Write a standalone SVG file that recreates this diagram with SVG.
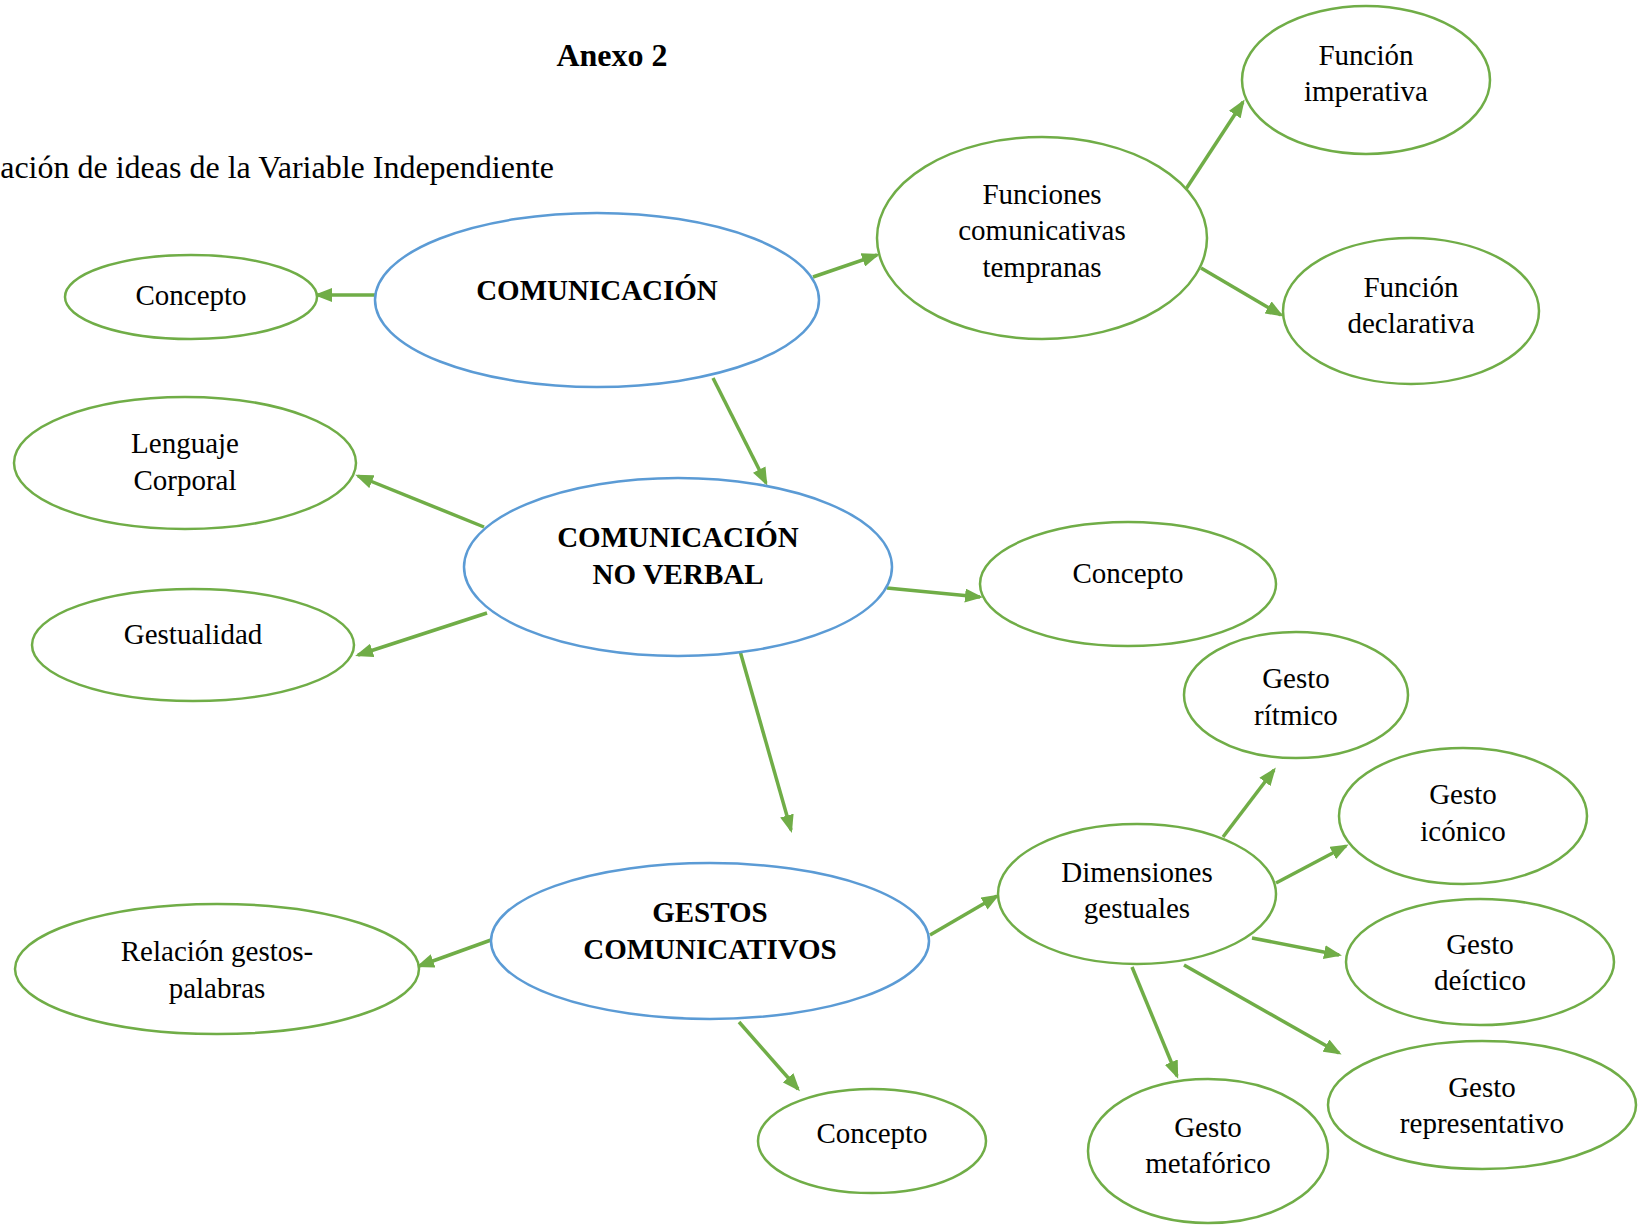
<svg xmlns="http://www.w3.org/2000/svg" width="1638" height="1225" viewBox="0 0 1638 1225">
<defs>
<marker id="ah" markerUnits="userSpaceOnUse" markerWidth="18" markerHeight="14" refX="15" refY="7" orient="auto">
<path d="M0,0 L18,7 L0,14 z" fill="#70AD47"/>
</marker>
</defs>
<style>
.g{fill:#fff;stroke:#70AD47;stroke-width:2.5}
.b{fill:#fff;stroke:#5B9BD5;stroke-width:2.5}
.t{font-family:"Liberation Serif","Times New Roman",serif;font-size:29px;fill:#000;text-anchor:middle}
.tb{font-family:"Liberation Serif","Times New Roman",serif;font-size:29px;font-weight:bold;fill:#000;text-anchor:middle}
.h{font-size:32px}
.c line{stroke:#70AD47;stroke-width:3.5;marker-end:url(#ah)}
</style>
<rect width="1638" height="1225" fill="#fff"/>
<text x="612" y="66" class="tb h">Anexo 2</text>
<text x="554" y="178" class="t h" style="text-anchor:end">ación de ideas de la Variable Independiente</text>

<g class="c">
<line x1="375" y1="295" x2="317" y2="295"/>
<line x1="813" y1="277" x2="877" y2="255"/>
<line x1="1186" y1="189" x2="1243" y2="102"/>
<line x1="1201" y1="268" x2="1281" y2="315"/>
<line x1="713" y1="378" x2="766" y2="483"/>
<line x1="484" y1="527" x2="358" y2="476"/>
<line x1="487" y1="613" x2="358" y2="655"/>
<line x1="887" y1="588" x2="980" y2="597"/>
<line x1="738" y1="644" x2="791" y2="830"/>
<line x1="491" y1="940" x2="419" y2="966"/>
<line x1="739" y1="1022" x2="798" y2="1089"/>
<line x1="930" y1="935" x2="997" y2="896"/>
<line x1="1223" y1="837" x2="1274" y2="770"/>
<line x1="1276" y1="883" x2="1346" y2="846"/>
<line x1="1252" y1="938" x2="1339" y2="955"/>
<line x1="1184" y1="965" x2="1339" y2="1053"/>
<line x1="1132" y1="967" x2="1177" y2="1076"/>
</g>

<g id="comunicacion">
<ellipse class="b" cx="597" cy="300" rx="222" ry="87"/>
<text class="tb" x="597" y="300">COMUNICACIÓN</text>
</g>
<g id="concepto1">
<ellipse class="g" cx="191" cy="297" rx="126" ry="42"/>
<text class="t" x="191" y="305">Concepto</text>
</g>
<g id="funciones">
<ellipse class="g" cx="1042" cy="238" rx="165" ry="101"/>
<text class="t" x="1042" y="204">Funciones</text>
<text class="t" x="1042" y="240">comunicativas</text>
<text class="t" x="1042" y="277">tempranas</text>
</g>
<g id="imperativa">
<ellipse class="g" cx="1366" cy="80" rx="124" ry="74"/>
<text class="t" x="1366" y="65">Función</text>
<text class="t" x="1366" y="101">imperativa</text>
</g>
<g id="declarativa">
<ellipse class="g" cx="1411" cy="311" rx="128" ry="73"/>
<text class="t" x="1411" y="297">Función</text>
<text class="t" x="1411" y="333">declarativa</text>
</g>
<g id="noverbal">
<ellipse class="b" cx="678" cy="567" rx="214" ry="89"/>
<text class="tb" x="678" y="547">COMUNICACIÓN</text>
<text class="tb" x="678" y="584">NO VERBAL</text>
</g>
<g id="lenguaje">
<ellipse class="g" cx="185" cy="463" rx="171" ry="66"/>
<text class="t" x="185" y="453">Lenguaje</text>
<text class="t" x="185" y="490">Corporal</text>
</g>
<g id="gestualidad">
<ellipse class="g" cx="193" cy="645" rx="161" ry="56"/>
<text class="t" x="193" y="644">Gestualidad</text>
</g>
<g id="concepto2">
<ellipse class="g" cx="1128" cy="584" rx="148" ry="62"/>
<text class="t" x="1128" y="583">Concepto</text>
</g>
<g id="gestos">
<ellipse class="b" cx="710" cy="941" rx="219" ry="78"/>
<text class="tb" x="710" y="922">GESTOS</text>
<text class="tb" x="710" y="959">COMUNICATIVOS</text>
</g>
<g id="relacion">
<ellipse class="g" cx="217" cy="969" rx="202" ry="65"/>
<text class="t" x="217" y="961">Relación gestos-</text>
<text class="t" x="217" y="998">palabras</text>
</g>
<g id="concepto3">
<ellipse class="g" cx="872" cy="1141" rx="114" ry="52"/>
<text class="t" x="872" y="1143">Concepto</text>
</g>
<g id="dimensiones">
<ellipse class="g" cx="1137" cy="894" rx="139" ry="70"/>
<text class="t" x="1137" y="882">Dimensiones</text>
<text class="t" x="1137" y="918">gestuales</text>
</g>
<g id="ritmico">
<ellipse class="g" cx="1296" cy="695" rx="112" ry="63"/>
<text class="t" x="1296" y="688">Gesto</text>
<text class="t" x="1296" y="725">rítmico</text>
</g>
<g id="iconico">
<ellipse class="g" cx="1463" cy="816" rx="124" ry="68"/>
<text class="t" x="1463" y="804">Gesto</text>
<text class="t" x="1463" y="841">icónico</text>
</g>
<g id="deictico">
<ellipse class="g" cx="1480" cy="962" rx="134" ry="63"/>
<text class="t" x="1480" y="954">Gesto</text>
<text class="t" x="1480" y="990">deíctico</text>
</g>
<g id="representativo">
<ellipse class="g" cx="1482" cy="1105" rx="154" ry="64"/>
<text class="t" x="1482" y="1097">Gesto</text>
<text class="t" x="1482" y="1133">representativo</text>
</g>
<g id="metaforico">
<ellipse class="g" cx="1208" cy="1151" rx="120" ry="72"/>
<text class="t" x="1208" y="1137">Gesto</text>
<text class="t" x="1208" y="1173">metafórico</text>
</g>
</svg>
